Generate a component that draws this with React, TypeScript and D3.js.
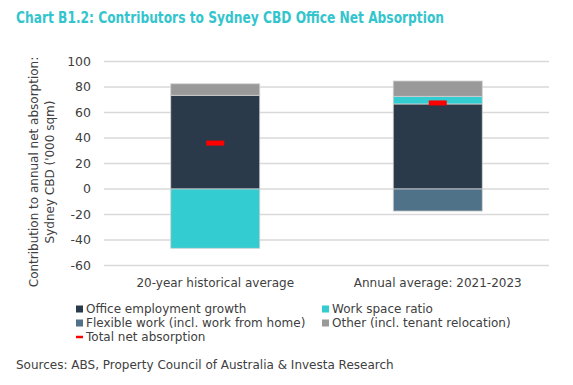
import * as d3 from "d3";

const categories = ["20-year historical average", "Annual average: 2021-2023"];
const officeEmployment = [73.5, 66.7];
const workSpaceRatio = [-46.5, 6];
const flexibleWork = [0, -17.3];
const other = [9, 12];
const totalAbsorption = [36, 67.5];
const yTicks = [100, 80, 60, 40, 20, 0, -20, -40, -60];

const seriesNames = ["Office employment growth", "Work space ratio", "Flexible work (incl. work from home)", "Other (incl. tenant relocation)"];
const seriesValues = [officeEmployment, workSpaceRatio, flexibleWork, other];
const seriesColors = ["#2b3a4a", "#33ccd1", "#4f7289", "#999999"];

const W = 573;
const H = 385;
const FONT = "'DejaVu Sans', sans-serif";
const TXT = "#404040";
const FS = 12;

export default function App() {
  const x = d3.scaleBand<string>().domain(categories).range([104, 549]);
  const y = d3.scaleLinear().domain([-60, 100]).range([265.5, 61.5]);
  const barW = x.bandwidth() * 0.4;

  // stack positive and negative values separately
  const rects: { x: number; y0: number; y1: number; color: string; key: string }[] = [];
  categories.forEach((c, ci) => {
    let pos = 0;
    let neg = 0;
    seriesValues.forEach((vals, si) => {
      const v = vals[ci];
      if (!v) return;
      let a, b;
      if (v > 0) { a = pos; b = pos + v; pos = b; }
      else { a = neg; b = neg + v; neg = b; }
      rects.push({ x: (x(c) || 0) + x.bandwidth() / 2 - barW / 2, y0: a, y1: b, color: seriesColors[si], key: c + si });
    });
  });

  const legend = [
    { name: seriesNames[0], color: seriesColors[0], lx: 76, ly: 309 },
    { name: seriesNames[1], color: seriesColors[1], lx: 322, ly: 309 },
    { name: seriesNames[2], color: seriesColors[2], lx: 76, ly: 323 },
    { name: seriesNames[3], color: seriesColors[3], lx: 322, ly: 323 },
  ];

  return (
    <svg width={W} height={H} style={{ position: "absolute", left: 0, top: 0, background: "#fff" }} fontFamily={FONT}>
      <text x={16} y={23} fill="#33c5cd" fontSize={15} fontWeight="bold" textLength={428} lengthAdjust="spacingAndGlyphs">
        Chart B1.2: Contributors to Sydney CBD Office Net Absorption
      </text>

      {yTicks.map((t) => (
        <g key={t}>
          <line x1={104} x2={549} y1={y(t)} y2={y(t)} stroke="#d9d9d9" strokeWidth={1.3} />
          <text x={91} y={y(t)} dy="0.35em" textAnchor="end" fontSize={12.5} fill={TXT}>{t}</text>
        </g>
      ))}

      {rects.map((r) => (
        <rect key={r.key} x={r.x} width={barW} y={y(Math.max(r.y0, r.y1))} height={Math.abs(y(r.y0) - y(r.y1))}
          fill={r.color} stroke="#d0d0d0" strokeWidth={0.8} />
      ))}

      {categories.map((c, i) => (
        <rect key={c} x={(x(c) || 0) + x.bandwidth() / 2 - 9} y={y(totalAbsorption[i]) - 2.5} width={18} height={5} fill="#ff0000" />
      ))}

      {categories.map((c) => (
        <text key={c} x={(x(c) || 0) + x.bandwidth() / 2} y={287} textAnchor="middle" fontSize={FS} fill={TXT}>{c}</text>
      ))}

      <g transform="translate(38,172) rotate(-90)">
        <text x={0} y={0} textAnchor="middle" fontSize={FS} fill={TXT}>Contribution to annual net absorption:</text>
        <text x={0} y={16} textAnchor="middle" fontSize={FS} fill={TXT}>Sydney CBD ('000 sqm)</text>
      </g>

      {legend.map((l) => (
        <g key={l.name}>
          <rect x={l.lx} y={l.ly - 3.5} width={7} height={7} fill={l.color} />
          <text x={l.lx + 10} y={l.ly} dy="0.35em" fontSize={FS} fill={TXT}>{l.name}</text>
        </g>
      ))}
      <line x1={76} x2={83} y1={337} y2={337} stroke="#ff0000" strokeWidth={2.5} />
      <text x={86} y={337} dy="0.35em" fontSize={FS} fill={TXT}>Total net absorption</text>

      <text x={16} y={369} fontSize={FS} fill={TXT}>Sources: ABS, Property Council of Australia &amp; Investa Research</text>
    </svg>
  );
}
